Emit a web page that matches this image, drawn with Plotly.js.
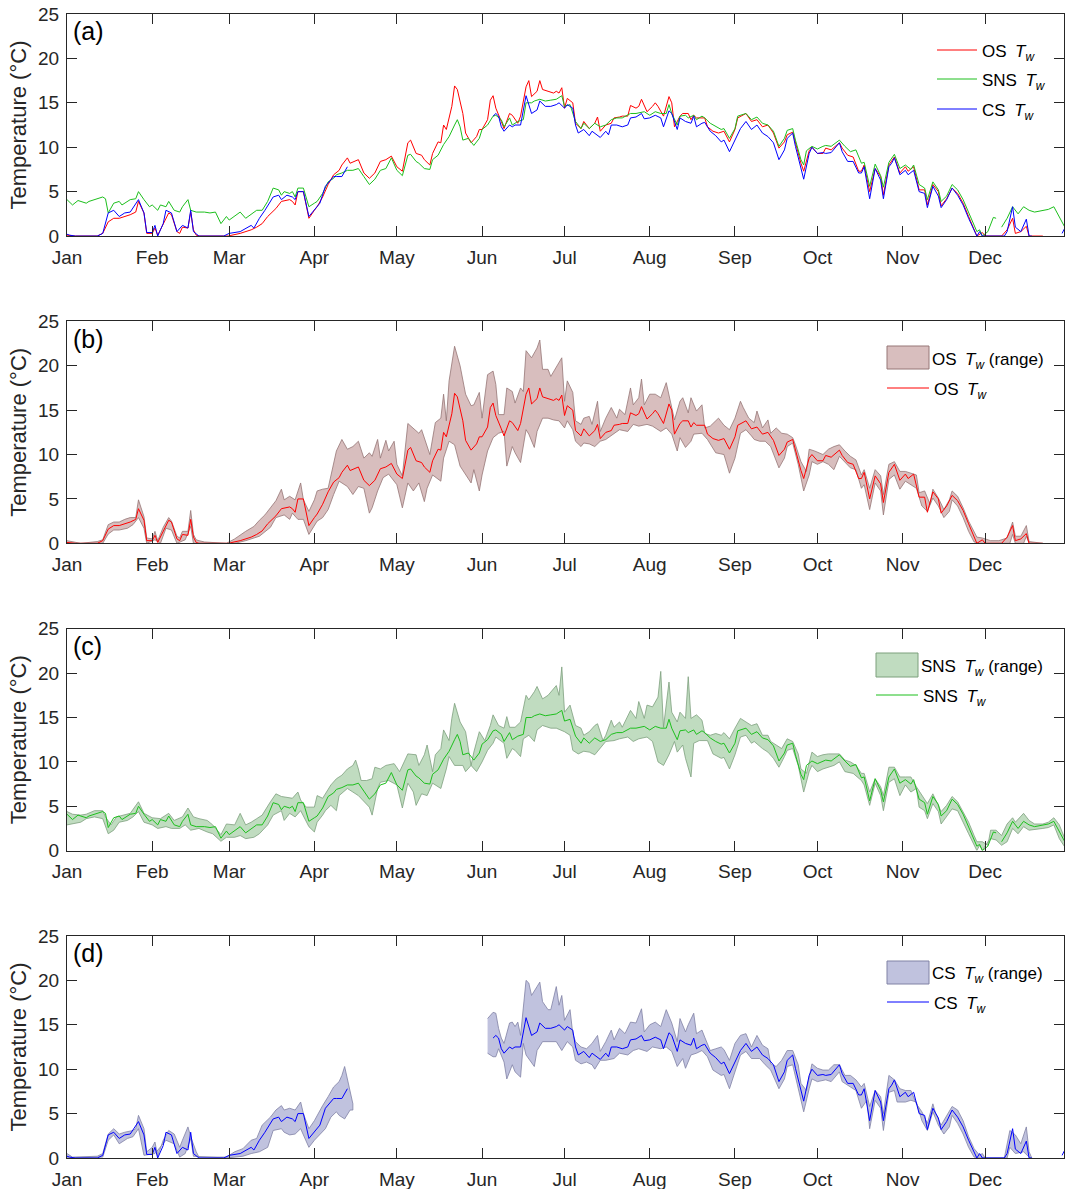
<!DOCTYPE html>
<html><head><meta charset="utf-8">
<script src="https://cdn.plot.ly/plotly-3.0.1.min.js"></script>
<style>html,body{margin:0;padding:0;background:#fff}</style>
</head><body><div id="chart" style="width:1065px;height:1189px"></div>
<script>
// ---- tick labels ----
const monthTicks = [1,32,60,91,121,152,182,213,244,274,305,335];
const monthLabels = ['Jan','Feb','Mar','Apr','May','Jun','Jul','Aug','Sep','Oct','Nov','Dec'];
const yTicks = [0,5,10,15,20,25];

// ---- daily mean water temperature [day of year, °C] ----
const osMean = [[1,0.1],[4,0],[12,0],[14,0.3],[16,1.6],[18,2.0],[20,2.0],[22,2.2],[24,2.4],[26,2.7],[27,3.9],[29,2.6],[30,0.3],[32,0.3],[33,0.9],[34,0.1],[36,1.4],[38,2.6],[39,2.4],[41,0.5],[42,0.3],[43,1.0],[45,0.9],[46,2.7],[47,0.7],[48,0.1],[49,0],[60,0],[61,0.1],[64,0.3],[68,0.7],[70,1.0],[72,1.4],[74,2.2],[77,3.1],[79,3.9],[82,4.1],[83,3.9],[84,3.5],[85,5.0],[87,5.0],[89,2.0],[91,2.9],[92,3.3],[94,4.4],[96,5.8],[98,6.9],[100,7.4],[101,8.0],[103,8.8],[104,8.2],[107,8.6],[109,7.1],[111,6.5],[113,7.1],[115,8.4],[117,8.6],[119,9.0],[121,7.8],[123,7.3],[125,10.5],[126,10.8],[128,9.3],[130,9.1],[131,8.6],[133,8.0],[134,9.3],[136,10.6],[137,10.5],[138,12.5],[139,12.0],[141,14.6],[142,16.9],[143,16.5],[145,13.8],[146,11.6],[148,10.5],[150,11.2],[151,12.0],[152,12.0],[154,13.1],[155,15.3],[156,15.8],[157,14.4],[159,12.9],[160,12.1],[162,13.8],[163,13.6],[165,12.7],[166,13.5],[168,16.8],[169,17.5],[170,15.7],[172,16.3],[173,17.5],[174,16.5],[176,16.3],[178,16.1],[179,16.3],[180,16.1],[181,16.7],[182,14.4],[183,15.5],[185,15.0],[186,12.7],[188,12.1],[189,12.9],[191,12.1],[193,12.7],[194,13.4],[195,11.8],[197,12.5],[199,12.7],[200,13.3],[202,13.4],[203,13.5],[205,13.5],[206,14.7],[208,14.4],[209,14.6],[210,15.4],[212,14.0],[214,14.6],[215,15.0],[216,14.6],[217,14.0],[218,13.5],[220,15.7],[221,15.0],[222,12.3],[224,13.5],[225,13.8],[227,13.8],[228,13.1],[229,13.6],[230,13.3],[231,13.3],[233,13.3],[234,12.3],[236,11.8],[238,11.6],[240,11.8],[242,10.6],[244,12.0],[245,13.3],[248,13.8],[250,12.9],[252,13.1],[254,12.3],[256,12.5],[258,11.6],[260,9.9],[262,10.6],[263,11.4],[265,11.7],[266,10.5],[268,8.2],[269,7.3],[271,9.6],[272,10.0],[274,9.3],[276,9.3],[277,9.9],[279,9.7],[282,10.5],[283,9.9],[285,9.1],[287,8.9],[289,7.3],[290,7.3],[291,8.0],[293,5.0],[295,7.6],[297,6.7],[298,4.6],[300,8.0],[301,8.4],[302,8.9],[304,7.1],[306,7.8],[307,7.3],[309,7.8],[311,5.2],[313,5.2],[314,3.5],[316,5.8],[318,5.0],[319,3.4],[321,4.2],[323,5.4],[325,4.8],[327,3.7],[329,2.2],[331,0.7],[332,0],[334,0.4],[335,0],[341,0],[343,0.7],[345,2.0],[346,0.3],[348,0.5],[350,1.1],[351,0],[356,0]];

const snsMean = [[1,4.1],[3,3.5],[5,4.0],[8,3.7],[9,3.9],[12,4.2],[14,4.4],[15,4.2],[16,2.6],[18,3.7],[20,3.9],[21,3.5],[24,4.1],[26,4.2],[27,5.0],[29,4.1],[31,3.3],[32,3.5],[34,2.9],[35,3.5],[37,3.3],[38,3.9],[40,2.9],[42,2.7],[43,3.3],[45,4.1],[46,2.9],[48,2.7],[51,2.7],[53,2.6],[55,2.7],[57,1.4],[59,2.2],[60,1.8],[62,2.2],[64,2.7],[66,2.0],[68,2.4],[70,2.9],[72,2.9],[74,3.9],[76,5.4],[78,5.2],[79,4.6],[80,5.0],[82,4.8],[83,5.0],[84,4.4],[85,5.4],[87,5.4],[89,3.3],[91,3.7],[92,3.9],[94,4.8],[96,6.1],[98,6.5],[99,6.9],[101,7.1],[103,7.4],[105,7.4],[107,7.6],[109,6.7],[111,5.8],[113,6.4],[115,7.4],[117,7.6],[119,8.8],[121,7.4],[123,6.8],[125,9.1],[126,9.2],[128,8.4],[129,8.2],[131,7.6],[133,7.5],[134,8.6],[136,9.1],[138,10.3],[140,11.2],[142,12.5],[143,13.1],[144,12.3],[145,10.8],[147,11.0],[149,10.2],[151,11.0],[152,12.0],[154,12.5],[156,13.5],[157,13.6],[159,13.1],[160,12.3],[162,13.3],[163,12.5],[165,12.9],[167,13.1],[168,15.0],[170,15.0],[171,15.2],[173,15.4],[175,15.2],[177,15.3],[179,15.4],[181,15.8],[182,14.6],[184,14.8],[186,12.9],[188,12.1],[189,12.7],[191,12.1],[193,12.7],[195,12.3],[197,12.5],[199,13.1],[201,13.3],[203,13.3],[205,13.6],[206,13.8],[208,13.8],[211,14.0],[213,13.6],[215,14.0],[217,13.8],[219,13.8],[220,14.8],[221,13.8],[223,12.5],[224,13.5],[226,13.6],[227,13.3],[229,13.6],[230,13.1],[232,13.5],[233,13.3],[235,12.7],[237,12.3],[239,12.0],[240,12.1],[242,11.0],[244,12.1],[245,13.5],[248,13.8],[250,13.1],[252,13.4],[254,12.7],[256,12.5],[258,11.8],[260,10.1],[262,11.0],[263,11.9],[265,12.1],[266,10.8],[268,8.6],[269,8.0],[270,9.6],[272,10.1],[274,9.8],[276,10.1],[277,10.2],[279,10.1],[282,10.8],[284,10.1],[286,9.5],[288,9.7],[290,8.2],[291,8.3],[293,5.6],[295,8.1],[297,6.8],[298,5.5],[300,8.3],[302,9.2],[304,7.6],[306,8.0],[308,7.5],[309,8.0],[311,5.8],[313,5.4],[314,4.1],[316,6.1],[318,5.2],[319,3.9],[321,4.5],[323,5.8],[325,5.2],[327,4.1],[329,2.7],[331,1.2],[332,0.5],[333,0.7],[334,0],[336,0.5],[337,1.4],[338,2.1],[339,2.0],null,[341,1.0],[343,2.0],[345,3.3],[347,2.5],[349,3.3],[351,2.9],[353,2.7],[356,2.9],[358,3.0],[360,3.3],[362,2.2],[364,1.0]];

const csMean = [[1,0.2],[2,0.1],[4,0],[12,0],[14,0.3],[16,2.6],[18,2.9],[20,2.2],[22,2.6],[24,2.7],[27,4.1],[29,2.6],[30,0.4],[32,0.4],[33,1.2],[34,0],[36,1.4],[37,2.9],[39,2.6],[41,0.5],[43,1.2],[45,0.9],[46,2.9],[47,0.5],[49,0],[58,0],[60,0.3],[64,0.5],[68,1.2],[69,0.9],[71,2.0],[73,2.9],[76,4.4],[78,4.6],[79,4.1],[81,4.6],[83,4.4],[84,4.1],[85,5.0],[87,5.0],[89,2.2],[91,2.9],[93,3.7],[95,5.6],[98,6.7],[99,6.7],[101,6.7],[103,7.8],null,[156,13.5],[157,13.8],[158,13.5],[159,12.3],[160,11.8],[162,12.5],[163,12.3],[164,12.5],[166,12.5],[167,14.2],[168,15.8],[170,13.8],[172,14.2],[173,15.2],[175,14.6],[177,14.6],[179,14.8],[180,15.0],[182,14.4],[183,14.8],[185,14.4],[186,12.5],[187,11.6],[189,12.0],[191,11.3],[192,11.8],[194,11.4],[195,11.1],[197,11.8],[198,11.4],[199,12.5],[201,12.5],[203,12.3],[205,12.5],[206,13.3],[208,13.4],[210,13.8],[211,13.2],[213,13.3],[215,13.6],[217,13.3],[218,12.3],[220,14.1],[221,13.8],[223,12.0],[224,13.3],[226,12.9],[228,12.7],[229,13.5],[230,12.3],[232,12.7],[233,12.8],[235,11.8],[237,11.3],[239,10.6],[240,10.8],[242,9.5],[244,10.8],[246,12.1],[248,12.9],[250,12.0],[252,12.5],[254,11.6],[256,11.2],[258,10.5],[260,8.6],[262,9.7],[263,11.0],[265,11.6],[266,10.1],[268,7.7],[269,6.4],[271,9.3],[272,10.0],[274,9.3],[276,9.4],[277,9.3],[279,9.4],[282,10.5],[283,9.5],[285,8.4],[287,8.4],[289,7.1],[290,7.1],[291,7.8],[293,4.2],[295,7.6],[297,6.3],[298,4.2],[300,7.8],[301,8.2],[302,8.8],[304,6.9],[306,7.4],[307,6.9],[309,7.4],[311,5.0],[313,4.8],[314,3.2],[316,5.6],[318,4.5],[319,3.2],[321,4.1],[323,5.4],[325,4.6],[327,3.5],[329,2.0],[331,0.7],[332,0],[333,0.5],[334,0],[342,0],[343,0.5],[345,3.3],[346,1.0],[348,0.5],[350,1.9],[351,0],[352,0],null,[363,0.3],[364,0.9]];

// ---- daily range (max / min) [day of year, °C] ----
const osMax = [[1,0.3],[3,0.2],[6,0],[12,0.2],[14,0.4],[16,2.1],[18,2.4],[20,2.4],[22,2.7],[24,2.9],[26,2.9],[27,4.9],[29,3.0],[30,0.6],[32,0.5],[33,1.35],[34,0.3],[36,1.8],[38,2.9],[39,2.5],[41,0.8],[42,0.6],[43,1.35],[45,1.35],[46,3.7],[47,1.0],[48,0.4],[49,0.3],[51,0.15],[59,0],[62,0.5],[66,1.35],[69,1.9],[71,2.6],[73,3.2],[75,4.0],[77,4.8],[79,6.1],[80,4.9],[82,5.3],[84,4.9],[86,6.8],[87,4.9],[89,3.6],[91,4.9],[92,5.9],[94,6.1],[96,6.2],[97,7.6],[99,10.4],[101,11.7],[103,10.6],[105,10.9],[107,11.5],[109,9.6],[111,10.2],[112,9.8],[114,11.7],[115,9.6],[117,11.6],[118,10.4],[120,11.5],[121,8.9],[123,7.6],[125,13.5],[127,13.0],[129,12.4],[130,12.8],[131,11.9],[133,10.0],[135,13.6],[137,14.1],[138,16.8],[139,13.8],[140,18.3],[142,22.2],[144,20.0],[146,16.8],[148,15.5],[149,15.6],[151,17.0],[152,14.1],[154,19.0],[156,19.4],[157,17.9],[158,14.5],[160,14.5],[161,17.5],[163,17.1],[164,15.8],[166,17.5],[167,17.1],[168,21.7],[170,20.9],[172,22.0],[173,22.9],[174,19.6],[176,19.6],[177,18.8],[179,19.8],[181,20.9],[182,16.0],[183,18.3],[185,17.0],[186,13.8],[188,13.4],[189,14.1],[191,14.3],[192,13.4],[194,16.0],[195,12.6],[197,14.1],[199,15.3],[201,14.1],[202,15.1],[204,14.5],[206,17.5],[207,15.6],[209,16.4],[210,18.5],[211,15.6],[213,16.8],[215,16.8],[217,16.4],[219,18.1],[221,15.3],[222,13.9],[224,16.0],[225,16.4],[227,14.7],[228,16.4],[230,14.9],[232,15.6],[233,13.0],[235,13.2],[237,13.8],[238,14.1],[240,13.3],[242,12.8],[244,14.1],[246,16.0],[247,15.3],[249,14.1],[251,13.6],[252,14.9],[254,13.0],[256,13.9],[257,12.4],[259,13.0],[261,12.4],[263,12.3],[265,11.9],[266,11.1],[268,9.2],[270,8.1],[271,10.6],[273,10.4],[276,10.0],[278,10.6],[280,10.9],[282,11.1],[284,10.4],[286,9.8],[288,9.4],[290,7.7],[291,8.3],[293,6.2],[295,8.3],[297,7.6],[298,5.5],[300,8.9],[302,9.2],[304,8.1],[306,8.1],[308,7.9],[310,7.7],[311,5.7],[313,5.9],[315,4.4],[316,6.1],[318,5.1],[320,3.8],[322,4.9],[323,5.9],[325,5.3],[327,4.0],[329,2.5],[331,1.2],[332,0.7],[334,0.6],[337,0.3],[340,0.3],[343,0.6],[345,2.4],[346,0.8],[348,0.8],[350,2.0],[351,0.2],[356,0]];
const osMin = [[1,0],[14,0],[16,1.05],[18,1.5],[20,1.5],[23,1.7],[25,2.1],[27,2.9],[29,1.7],[30,0],[33,0.4],[35,0],[37,1.7],[39,1.5],[41,0],[44,0.4],[46,1.9],[47,0],[62,0],[66,0.3],[71,0.8],[75,1.8],[77,2.9],[80,3.2],[82,2.7],[83,3.4],[85,2.7],[87,2.7],[89,1.0],[92,2.5],[94,2.9],[96,3.8],[98,5.5],[100,7.0],[103,6.4],[105,5.5],[107,6.4],[109,6.2],[111,3.4],[112,4.0],[114,5.9],[116,7.4],[118,7.8],[121,6.6],[123,4.0],[125,6.8],[127,5.9],[129,6.8],[131,4.7],[132,6.2],[134,7.7],[137,7.0],[138,9.6],[140,11.5],[142,11.1],[144,8.7],[146,7.7],[148,6.8],[149,8.3],[151,5.9],[152,7.7],[154,10.4],[156,11.9],[158,12.4],[160,12.6],[161,8.7],[163,10.9],[164,10.2],[166,9.1],[168,12.8],[169,12.3],[171,10.8],[172,12.6],[174,14.1],[176,14.1],[178,13.9],[180,13.8],[182,13.0],[183,13.8],[185,12.8],[186,11.5],[188,10.9],[189,11.3],[191,11.2],[193,10.9],[195,11.5],[197,11.7],[200,12.4],[202,12.8],[205,12.6],[207,13.4],[209,13.2],[212,13.4],[214,13.2],[217,12.6],[219,13.0],[221,12.3],[223,10.4],[224,11.9],[226,10.8],[228,11.5],[229,12.3],[232,12.4],[234,11.7],[237,10.2],[240,10.0],[242,7.9],[244,9.6],[246,12.4],[248,12.8],[250,12.1],[251,11.7],[253,11.5],[255,11.5],[257,10.9],[260,8.5],[262,9.6],[263,10.9],[265,11.3],[267,8.9],[268,7.4],[269,5.9],[271,7.7],[272,9.2],[274,8.9],[276,9.2],[278,8.9],[280,8.3],[282,9.8],[284,9.1],[286,8.5],[288,8.3],[290,6.2],[291,6.6],[293,3.8],[295,6.8],[297,5.9],[298,3.2],[300,7.2],[302,7.7],[304,6.1],[306,7.0],[308,6.6],[310,6.2],[312,4.2],[314,3.6],[316,5.1],[318,4.2],[320,2.9],[322,3.6],[323,4.9],[325,4.2],[327,2.9],[329,1.35],[331,0.15],[333,0],[344,0],[345,1.0],[346,0],[349,0],[350,0.8],[351,0],[356,0]];

const snsMax = [[1,4.4],[3,4.1],[6,4.0],[8,4.1],[11,4.5],[14,4.5],[15,3.8],[17,2.9],[19,3.8],[22,4.0],[24,4.2],[27,5.5],[29,4.2],[32,3.7],[35,3.6],[38,4.2],[40,3.4],[43,3.8],[45,4.8],[47,3.8],[49,3.6],[52,3.4],[54,2.9],[57,1.8],[59,3.0],[62,2.9],[64,4.2],[66,2.9],[68,3.2],[70,3.6],[72,4.0],[75,5.5],[77,6.4],[79,6.1],[82,5.9],[83,5.9],[85,6.6],[86,5.7],[88,4.9],[91,4.9],[92,6.2],[94,5.9],[97,7.4],[99,8.1],[101,8.5],[103,9.2],[105,9.6],[106,10.2],[107,9.2],[108,7.9],[110,7.9],[112,8.1],[113,9.4],[115,9.2],[117,9.6],[119,9.7],[120,9.8],[122,8.9],[125,10.9],[128,10.8],[129,9.6],[131,10.8],[132,11.9],[134,8.9],[135,10.8],[137,11.5],[138,13.6],[140,12.4],[141,14.9],[142,16.6],[144,14.5],[146,13.4],[148,9.6],[149,11.1],[151,13.4],[153,12.4],[155,14.1],[156,15.3],[158,14.1],[160,13.8],[161,15.1],[162,13.9],[164,13.9],[166,14.5],[168,17.5],[169,17.0],[171,17.9],[172,18.5],[174,17.1],[176,17.5],[177,17.9],[179,18.6],[180,17.5],[181,20.7],[182,15.6],[184,16.4],[186,14.1],[188,13.8],[189,13.0],[191,13.4],[193,14.1],[194,14.3],[196,12.4],[197,13.0],[199,14.7],[200,13.9],[202,14.5],[203,13.9],[206,15.8],[208,14.9],[209,16.8],[211,14.9],[212,16.4],[214,16.2],[216,17.3],[217,20.2],[218,13.9],[220,19.0],[221,15.6],[223,14.5],[224,15.6],[226,14.9],[227,19.6],[228,14.9],[230,15.3],[232,14.7],[233,13.2],[235,13.0],[237,13.2],[239,13.0],[240,13.3],[242,12.6],[244,13.8],[246,14.9],[248,14.5],[250,14.1],[252,14.3],[254,13.0],[256,13.0],[257,12.3],[259,11.9],[261,11.5],[263,12.6],[265,12.3],[267,10.9],[268,9.2],[270,8.7],[272,11.1],[274,10.6],[276,10.8],[278,10.9],[280,10.9],[282,10.9],[284,10.2],[286,10.0],[288,9.6],[290,8.7],[291,8.7],[293,6.6],[295,8.1],[297,7.2],[298,6.2],[300,9.4],[302,9.4],[304,8.3],[306,8.3],[308,8.3],[310,7.2],[312,6.2],[314,5.3],[316,6.4],[317,5.7],[319,4.4],[321,5.1],[323,6.1],[325,5.5],[327,4.4],[329,3.2],[331,1.7],[332,1.0],[334,1.0],[336,0.6],[337,2.3],[339,2.3],[341,1.7],[343,3.0],[345,3.7],[346,3.2],[349,4.2],[351,3.4],[353,3.0],[356,3.0],[358,3.2],[360,3.7],[362,2.9],[364,1.35]];
const snsMin = [[1,2.9],[3,3.0],[6,3.2],[8,3.6],[11,3.8],[14,3.6],[16,1.9],[18,2.3],[20,3.2],[23,3.4],[25,3.8],[27,4.4],[29,3.2],[32,2.9],[34,2.5],[37,2.7],[39,2.5],[42,2.5],[44,2.9],[46,2.3],[49,2.5],[52,2.1],[54,1.9],[57,1.05],[59,1.5],[62,1.5],[64,1.7],[66,1.35],[69,1.5],[71,1.9],[74,2.9],[76,4.0],[79,4.5],[80,3.4],[82,4.2],[84,3.8],[86,4.5],[89,2.7],[91,2.1],[92,3.2],[94,4.0],[95,4.5],[97,5.1],[99,4.5],[100,6.2],[103,7.0],[105,6.6],[107,6.2],[109,5.5],[111,4.9],[112,4.0],[114,7.0],[115,7.7],[118,7.9],[121,7.4],[123,4.8],[125,7.6],[127,6.6],[128,5.1],[130,6.4],[132,6.2],[134,7.6],[137,7.0],[139,9.2],[140,10.6],[142,9.6],[145,9.6],[146,8.9],[148,9.6],[150,8.9],[152,10.0],[154,11.3],[156,12.1],[157,12.8],[160,12.1],[161,10.4],[163,11.5],[164,11.3],[166,10.6],[167,12.6],[169,13.0],[171,12.3],[172,13.6],[174,14.1],[177,13.8],[179,13.8],[182,13.4],[184,13.0],[185,11.3],[187,10.9],[189,11.2],[191,11.1],[193,10.8],[195,11.5],[197,12.3],[200,12.4],[202,12.6],[205,12.8],[207,12.3],[209,12.6],[212,12.8],[214,12.3],[216,10.0],[218,9.6],[220,10.8],[222,12.3],[223,11.1],[225,11.9],[226,10.4],[228,8.3],[229,12.1],[231,12.4],[234,12.4],[236,10.9],[239,10.4],[240,10.5],[242,9.2],[244,10.8],[246,12.8],[248,13.0],[250,12.1],[251,12.3],[254,11.5],[256,11.1],[258,10.4],[260,9.4],[262,10.6],[263,11.3],[265,11.5],[267,9.6],[268,8.1],[269,6.6],[271,8.9],[272,9.6],[274,8.9],[276,9.2],[278,9.4],[280,9.6],[282,10.0],[284,8.9],[287,8.7],[288,8.5],[290,7.9],[291,7.4],[293,5.1],[295,7.6],[297,6.2],[298,4.5],[300,7.7],[302,8.1],[304,6.2],[306,7.4],[308,6.6],[310,7.0],[311,4.9],[313,4.5],[314,3.6],[316,5.3],[318,4.4],[319,3.0],[321,3.8],[323,4.7],[325,4.5],[327,3.2],[329,1.9],[331,0.6],[332,0],[333,0.6],[334,0],[336,1.0],[337,1.35],[339,1.2],[341,0.6],[343,1.0],[345,2.5],[347,1.9],[349,2.7],[351,2.3],[353,2.4],[356,2.5],[358,2.6],[360,2.9],[362,1.35],[364,0.4]];

const csMaxWinter = [[1,0.5],[3,0.1],[12,0.2],[14,0.5],[16,2.7],[18,3.3],[20,2.7],[22,2.9],[25,3.1],[26,3.3],[27,4.8],[29,3.3],[30,0.7],[32,1.2],[33,1.8],[34,0.2],[36,2.0],[38,3.1],[40,2.7],[42,1.2],[43,2.0],[45,3.5],[46,2.4],[48,0.7],[49,0.1],[59,0.1],[62,0.7],[65,1.05],[68,2.0],[70,2.2],[72,3.7],[75,4.6],[77,5.4],[79,5.9],[80,5.4],[82,5.6],[84,5.4],[86,6.3],[87,5.0],[89,3.3],[91,4.2],[92,4.8],[94,5.9],[96,6.9],[98,8.0],[100,8.6],[101,9.3],[102,10.3],[103,8.8],[105,6.1]];
const csMinWinter = [[1,0],[14,0.1],[16,2.0],[18,2.6],[20,1.6],[23,2.2],[25,2.4],[27,3.3],[29,0.3],[33,0.5],[37,2.0],[40,1.6],[42,0.1],[44,0.5],[46,2.2],[47,0.2],[59,0],[65,0.2],[68,0.5],[71,0.7],[74,1.2],[76,3.1],[79,3.3],[80,2.9],[82,2.6],[84,2.7],[86,3.3],[89,1.2],[91,2.0],[93,2.7],[95,3.3],[97,4.6],[99,5.2],[100,4.8],[102,4.4],[104,5.4],[105,5.4]];
const csMaxSummer = [[154,15.7],[156,16.4],[157,16.3],[158,14.6],[159,13.5],[160,12.9],[162,15.2],[163,15.3],[164,14.8],[165,15.3],[166,13.8],[168,20.0],[169,19.7],[170,18.3],[172,19.3],[173,19.8],[174,17.6],[176,16.7],[177,16.7],[179,19.3],[180,17.2],[181,18.3],[182,15.5],[184,16.7],[185,14.0],[186,13.1],[188,12.5],[190,12.3],[192,12.9],[194,13.8],[195,12.0],[197,13.1],[199,14.4],[200,13.3],[202,14.6],[204,14.0],[206,15.3],[208,15.2],[210,16.8],[211,14.2],[213,15.0],[215,15.3],[217,14.8],[219,16.7],[221,15.2],[223,13.1],[224,15.7],[226,14.2],[227,15.0],[229,16.3],[230,14.0],[232,14.4],[233,13.6],[235,12.1],[237,12.3],[239,12.5],[240,12.2],[242,11.0],[244,12.9],[246,13.8],[248,14.0],[250,12.5],[252,13.8],[254,12.7],[256,12.3],[257,10.6],[259,10.3],[261,11.0],[263,12.1],[265,12.1],[267,10.5],[268,8.4],[270,7.6],[272,10.6],[274,10.1],[276,9.9],[278,9.9],[280,10.5],[282,10.5],[284,9.3],[286,9.3],[288,8.8],[290,8.0],[291,8.4],[293,5.8],[295,7.6],[297,6.9],[298,5.0],[300,9.3],[302,8.8],[304,7.8],[306,7.6],[308,7.6],[310,6.1],[312,5.2],[314,3.9],[316,6.1],[317,5.0],[319,3.7],[321,4.8],[323,5.8],[325,5.4],[327,4.2],[329,2.4],[331,1.05],[333,0.3],[334,0.5],[335,0],[342,0],[344,3.1],[346,2.6],[348,1.6],[350,3.5],[351,0.7],[352,0]];
const csMinSummer = [[154,11.8],[156,11.4],[157,11.4],[158,12.3],[160,10.8],[161,8.9],[163,10.5],[164,9.7],[166,9.1],[167,12.9],[168,11.6],[171,10.3],[172,12.1],[174,13.1],[177,13.1],[179,13.1],[181,12.1],[183,13.1],[185,12.5],[186,11.0],[188,10.6],[190,10.8],[192,10.5],[193,10.0],[195,11.0],[197,11.0],[200,11.2],[202,11.8],[205,11.6],[207,12.1],[209,12.3],[212,12.0],[214,12.5],[217,12.3],[219,12.5],[221,12.0],[223,10.3],[225,11.2],[226,10.1],[228,11.6],[230,11.8],[232,12.1],[234,11.4],[236,9.9],[239,9.3],[240,9.4],[242,7.8],[244,9.7],[246,11.6],[248,12.0],[250,11.2],[253,11.2],[255,10.5],[257,9.9],[260,7.8],[262,8.9],[263,10.3],[265,10.5],[267,8.0],[268,6.5],[269,5.2],[271,7.8],[272,8.9],[274,8.6],[277,8.8],[279,8.6],[282,9.7],[283,8.6],[286,8.0],[288,7.6],[290,5.6],[292,6.5],[293,3.3],[295,6.5],[297,5.6],[298,3.1],[300,7.4],[302,7.6],[303,6.3],[306,6.3],[308,6.5],[310,6.3],[312,4.2],[314,3.1],[316,5.2],[318,3.7],[320,2.7],[322,3.5],[323,4.8],[325,3.9],[327,2.7],[329,1.2],[331,0.1],[333,0],[343,0],[344,1.2],[346,0.5],[349,0.7],[351,0.1],[352,0]];

// ---- styling ----
const FONT = '"Liberation Sans", Arial, Helvetica, sans-serif';
const INK = '#262626';
const RED = '#FF0000', GREEN = '#1DBF1D', BLUE = '#0000FF';
const OS_FILL = 'rgb(216,190,190)', OS_EDGE = 'rgb(150,118,118)';
const SNS_FILL = 'rgb(192,220,192)', SNS_EDGE = 'rgb(125,160,125)';
const CS_FILL = 'rgb(192,194,222)', CS_EDGE = 'rgb(128,130,165)';

function X(a){ return a.map(p => p === null ? null : p[0]); }
function Y(a){ return a.map(p => p === null ? null : p[1]); }
function bandPoly(segs){
  const x = [], y = [];
  segs.forEach((s, i) => {
    if (i) { x.push(null); y.push(null); }
    x.push(...X(s[0]), ...X(s[1]).slice().reverse());
    y.push(...Y(s[0]), ...Y(s[1]).slice().reverse());
  });
  return {x, y};
}
const Tw = '<i>T<sub>w</sub></i>';
const SP = '\u2002';

function line(data, color, name, n){
  return {type:'scatter', mode:'lines', x:X(data), y:Y(data), name:name,
    xaxis:'x'+(n>1?n:''), yaxis:'y'+(n>1?n:''), showlegend:false,
    line:{color:color, width:1}, connectgaps:false, hoverinfo:'skip'};
}
function band(segs, fill, edge, name, n){
  const p = bandPoly(segs);
  return {type:'scatter', mode:'lines', x:p.x, y:p.y, name:name, fill:'toself',
    fillcolor:fill, line:{color:edge, width:0.8}, connectgaps:false, showlegend:false,
    xaxis:'x'+n, yaxis:'y'+n, hoverinfo:'skip'};
}

const traces = [
  line(osMean, RED, 'OS Tw', 1),
  line(snsMean, GREEN, 'SNS Tw', 1),
  line(csMean, BLUE, 'CS Tw', 1),
  band([[osMax, osMin]], OS_FILL, OS_EDGE, 'OS Tw (range)', 2),
  line(osMean, RED, 'OS Tw', 2),
  band([[snsMax, snsMin]], SNS_FILL, SNS_EDGE, 'SNS Tw (range)', 3),
  line(snsMean, GREEN, 'SNS Tw', 3),
  band([[csMaxWinter, csMinWinter],[csMaxSummer, csMinSummer]], CS_FILL, CS_EDGE, 'CS Tw (range)', 4),
  line(csMean, BLUE, 'CS Tw', 4)
];

function xa(anchor){
  return {domain:[0,1], anchor:anchor, range:[1,363.7], tickmode:'array',
    tickvals:monthTicks, ticktext:monthLabels, ticks:'inside', ticklen:10,
    tickwidth:1, tickcolor:INK, showline:true, linecolor:INK, linewidth:1,
    mirror:'ticks', showgrid:false, zeroline:false, ticklabelstandoff:4,
    tickfont:{family:FONT, size:19, color:INK}, fixedrange:true};
}
function ya(anchor, dom){
  return {domain:dom, anchor:anchor, range:[0,25], tickmode:'array', tickvals:yTicks,
    ticks:'inside', ticklen:10, tickwidth:1, tickcolor:INK, showline:true,
    linecolor:INK, linewidth:1, mirror:'ticks', showgrid:false, zeroline:false,
    ticklabelstandoff:3, tickfont:{family:FONT, size:19, color:INK},
    title:{text:'Temperature (°C)', font:{family:FONT, size:22, color:INK}, standoff:5},
    fixedrange:true};
}
const doms = [[0.8059,1],[0.5373,0.7313],[0.2687,0.4626],[0,0.1941]];
const labels = ['(a)','(b)','(c)','(d)'];

// pixel helpers for the hand-made legends (paper coordinates)
const PL = 67, PW = 997, PB = 1158, PH = 1144;
const px = v => (v - PL) / PW;
const py = v => (PB - v) / PH;

const shapes = [], annotations = [];
function legLine(x0, x1, y, color, text){
  shapes.push({type:'line', xref:'paper', yref:'paper', x0:px(x0), x1:px(x1), y0:py(y), y1:py(y),
    line:{color:color, width:1}});
  annotations.push({text:text, xref:'paper', yref:'paper', x:px(x1 + 3), y:py(y + 3),
    xanchor:'left', yanchor:'middle', showarrow:false, font:{family:FONT, size:17, color:'#000'}});
}
function legBox(x0, x1, y0, y1, fill, edge, text){
  shapes.push({type:'rect', xref:'paper', yref:'paper', x0:px(x0), x1:px(x1), y0:py(y1), y1:py(y0),
    fillcolor:fill, line:{color:edge, width:1}});
  annotations.push({text:text, xref:'paper', yref:'paper', x:px(x1 + 1), y:py((y0 + y1) / 2 + 3),
    xanchor:'left', yanchor:'middle', showarrow:false, font:{family:FONT, size:17, color:'#000'}});
}
// panel (a)
legLine(937, 977, 50, RED, 'OS'+SP+Tw);
legLine(937, 977, 79, GREEN, 'SNS'+SP+Tw);
legLine(937, 977, 109, BLUE, 'CS'+SP+Tw);
// panel (b)
legBox(887, 929, 346, 369, OS_FILL, OS_EDGE, 'OS'+SP+Tw+' (range)');
legLine(887, 929, 388, RED, 'OS'+SP+Tw);
// panel (c)
legBox(876, 918, 653, 677, SNS_FILL, SNS_EDGE, 'SNS'+SP+Tw+' (range)');
legLine(876, 918, 695, GREEN, 'SNS'+SP+Tw);
// panel (d)
legBox(887, 929, 961, 984, CS_FILL, CS_EDGE, 'CS'+SP+Tw+' (range)');
legLine(887, 929, 1002, BLUE, 'CS'+SP+Tw);

labels.forEach((t, i) => annotations.push({text:t, xref:(i?'x'+(i+1):'x')+' domain',
  yref:(i?'y'+(i+1):'y')+' domain', x:0.004, y:0.995, xanchor:'left', yanchor:'top',
  showarrow:false, font:{family:FONT, size:25, color:'#000'}}));

const layout = {
  width:1065, height:1189, margin:{l:67, r:1, t:14, b:31},
  paper_bgcolor:'#fff', plot_bgcolor:'#fff', showlegend:false,
  font:{family:FONT, color:INK},
  xaxis:xa('y'), xaxis2:xa('y2'), xaxis3:xa('y3'), xaxis4:xa('y4'),
  yaxis:ya('x', doms[0]), yaxis2:ya('x2', doms[1]), yaxis3:ya('x3', doms[2]), yaxis4:ya('x4', doms[3]),
  shapes:shapes, annotations:annotations
};

Plotly.newPlot('chart', traces, layout, {displayModeBar:false, staticPlot:true});
</script></body></html>
